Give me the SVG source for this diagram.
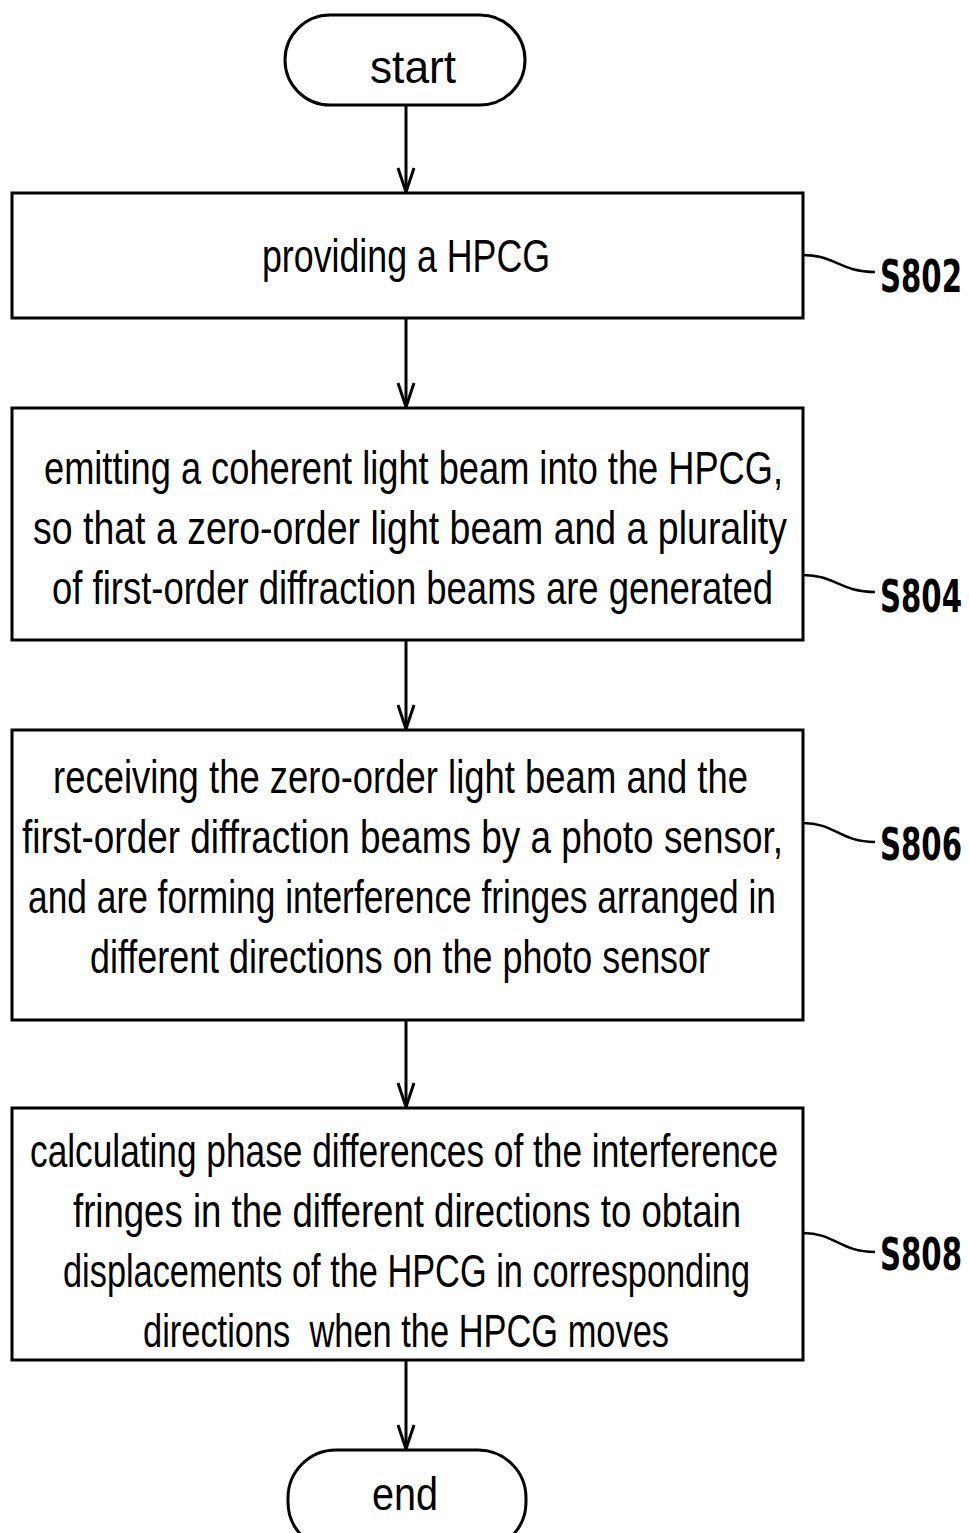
<svg xmlns="http://www.w3.org/2000/svg" width="969" height="1533" viewBox="0 0 969 1533">
<defs>
<marker id="arr" markerUnits="userSpaceOnUse" markerWidth="30" markerHeight="24" viewBox="-26 -12 30 24" refX="0" refY="0" orient="auto">
<path d="M-24,-8 L0,0 L-24,8" fill="none" stroke="#000" stroke-width="3"/>
</marker>
<style>
.b{fill:#fff;stroke:#000;stroke-width:3}
.c{fill:none;stroke:#000;stroke-width:3}
.s{fill:none;stroke:#000;stroke-width:2.5}
.t{font-family:"Liberation Sans",Arial,sans-serif;font-size:46px;fill:#000}
.l{font-family:"DejaVu Sans Condensed","Liberation Sans",sans-serif;font-size:44px;font-weight:bold;fill:#000}
</style>
</defs>
<g id="connectors">
<line class="c" x1="406" y1="105" x2="406" y2="192" marker-end="url(#arr)"/>
<line class="c" x1="406" y1="318" x2="406" y2="407" marker-end="url(#arr)"/>
<line class="c" x1="406" y1="640" x2="406" y2="729" marker-end="url(#arr)"/>
<line class="c" x1="406" y1="1020" x2="406" y2="1107" marker-end="url(#arr)"/>
<line class="c" x1="406" y1="1360" x2="406" y2="1449" marker-end="url(#arr)"/>
<path class="s" d="M803,255 C835,255 840,272 875,272"/>
<path class="s" d="M803,575 C835,575 840,592 875,592"/>
<path class="s" d="M803,823 C835,823 840,842 875,842"/>
<path class="s" d="M803,1233 C835,1233 840,1252 875,1252"/>
</g>
<g id="start">
<rect class="b" x="285" y="15" width="240" height="90" rx="45"/>
<text class="t" x="413" y="83" text-anchor="middle" textLength="86" lengthAdjust="spacingAndGlyphs">start</text>
</g>
<g id="S802">
<rect class="b" x="12" y="193" width="791" height="125"/>
<text class="t" x="262" y="272" textLength="288" lengthAdjust="spacingAndGlyphs">providing a HPCG</text>
<text class="l" x="880" y="292" textLength="82" lengthAdjust="spacingAndGlyphs">S802</text>
</g>
<g id="S804">
<rect class="b" x="12" y="408" width="791" height="232"/>
<text class="t" x="44" y="484" textLength="739" lengthAdjust="spacingAndGlyphs">emitting a coherent light beam into the HPCG,</text>
<text class="t" x="33" y="544" textLength="754" lengthAdjust="spacingAndGlyphs">so that a zero-order light beam and a plurality</text>
<text class="t" x="52" y="604" textLength="721" lengthAdjust="spacingAndGlyphs">of first-order diffraction beams are generated</text>
<text class="l" x="880" y="612" textLength="82" lengthAdjust="spacingAndGlyphs">S804</text>
</g>
<g id="S806">
<rect class="b" x="12" y="730" width="791" height="290"/>
<text class="t" x="53" y="793" textLength="695" lengthAdjust="spacingAndGlyphs">receiving the zero-order light beam and the</text>
<text class="t" x="22" y="853" textLength="761" lengthAdjust="spacingAndGlyphs">first-order diffraction beams by a photo sensor,</text>
<text class="t" x="28" y="913" textLength="748" lengthAdjust="spacingAndGlyphs">and are forming interference fringes arranged in</text>
<text class="t" x="90" y="973" textLength="620" lengthAdjust="spacingAndGlyphs">different directions on the photo sensor</text>
<text class="l" x="880" y="860" textLength="82" lengthAdjust="spacingAndGlyphs">S806</text>
</g>
<g id="S808">
<rect class="b" x="12" y="1108" width="791" height="252"/>
<text class="t" x="30" y="1167" textLength="748" lengthAdjust="spacingAndGlyphs">calculating phase differences of the interference</text>
<text class="t" x="73" y="1227" textLength="668" lengthAdjust="spacingAndGlyphs">fringes in the different directions to obtain</text>
<text class="t" x="63" y="1287" textLength="687" lengthAdjust="spacingAndGlyphs">displacements of the HPCG in corresponding</text>
<text class="t" x="143" y="1347" textLength="526" lengthAdjust="spacingAndGlyphs" xml:space="preserve">directions  when the HPCG moves</text>
<text class="l" x="880" y="1270" textLength="82" lengthAdjust="spacingAndGlyphs">S808</text>
</g>
<g id="end">
<rect class="b" x="288" y="1450" width="238" height="100" rx="48"/>
<text class="t" x="405" y="1510" text-anchor="middle" textLength="66" lengthAdjust="spacingAndGlyphs">end</text>
</g>
</svg>
